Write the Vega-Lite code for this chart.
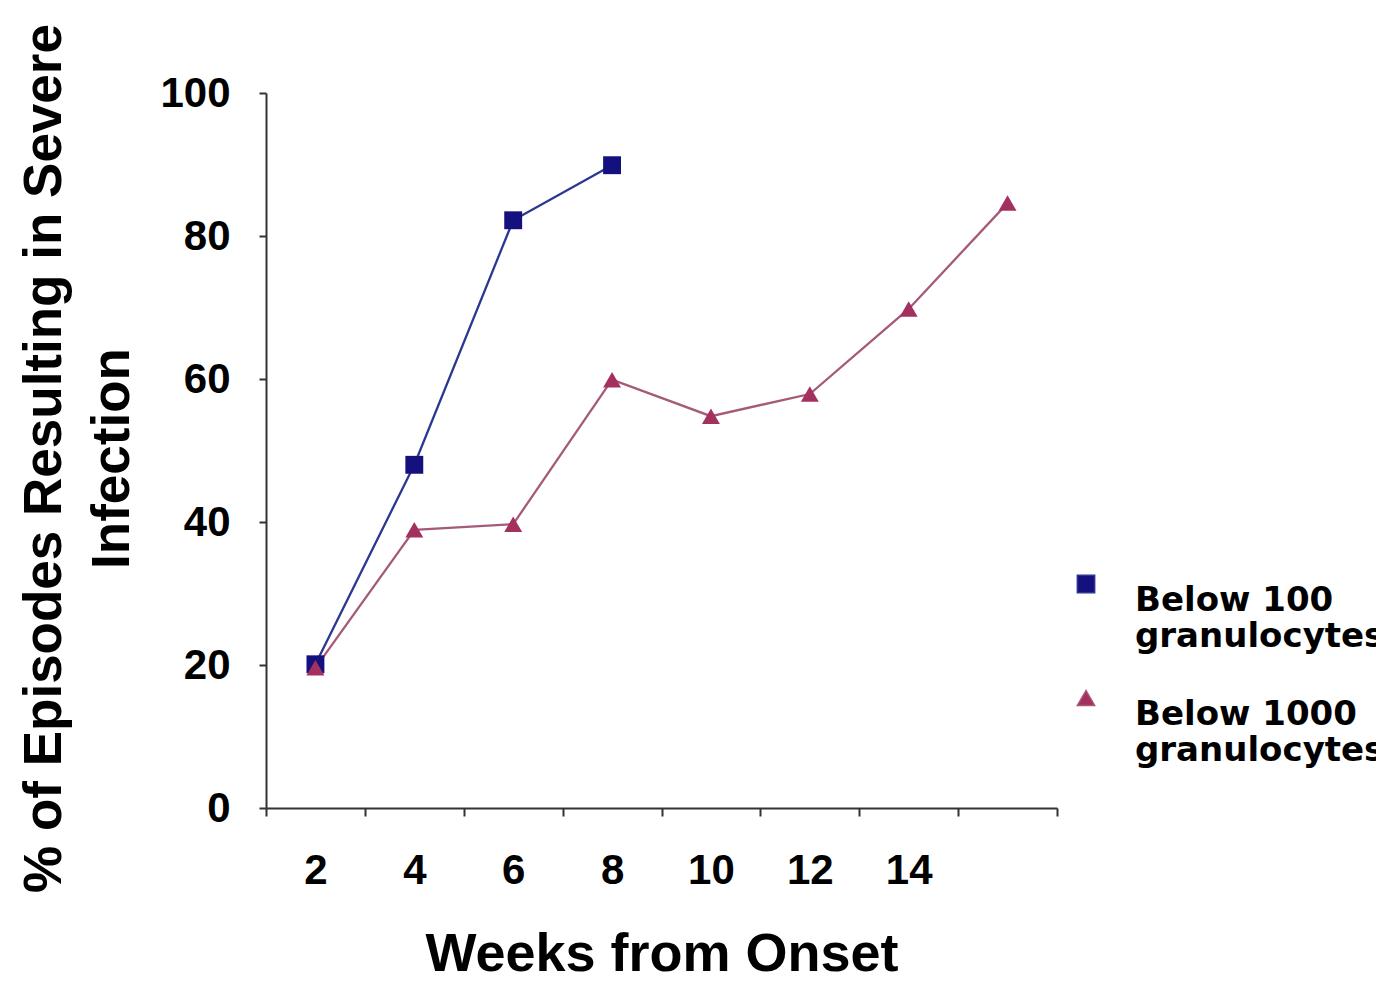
{
  "$schema": "https://vega.github.io/schema/vega-lite/v6.json",
  "autosize": "none",
  "width": 791,
  "height": 715,
  "padding": {"left": 266, "top": 93, "right": 319, "bottom": 174},
  "background": "white",
  "config": {"view": {"stroke": null}, "font": "Liberation Sans"},
  "data": {
    "values": [
      {"week": 2, "pct": 20.1, "series": "Below 100 granulocytes"},
      {"week": 4, "pct": 48.0, "series": "Below 100 granulocytes"},
      {"week": 6, "pct": 82.2, "series": "Below 100 granulocytes"},
      {"week": 8, "pct": 89.9, "series": "Below 100 granulocytes"},
      {"week": 2, "pct": 19.6, "series": "Below 1000 granulocytes"},
      {"week": 4, "pct": 38.9, "series": "Below 1000 granulocytes"},
      {"week": 6, "pct": 39.7, "series": "Below 1000 granulocytes"},
      {"week": 8, "pct": 59.9, "series": "Below 1000 granulocytes"},
      {"week": 10, "pct": 54.8, "series": "Below 1000 granulocytes"},
      {"week": 12, "pct": 57.9, "series": "Below 1000 granulocytes"},
      {"week": 14, "pct": 69.8, "series": "Below 1000 granulocytes"},
      {"week": 16, "pct": 84.6, "series": "Below 1000 granulocytes"}
    ]
  },
  "encoding": {
    "x": {
      "field": "week",
      "type": "ordinal",
      "bandPosition": 0.5,
      "scale": {"type": "band", "domain": [2, 4, 6, 8, 10, 12, 14, 16], "paddingInner": 0, "paddingOuter": 0},
      "axis": {
        "title": "Weeks from Onset",
        "titleFont": "Liberation Sans",
        "titleFontSize": 54,
        "titleFontWeight": "bold",
        "titleColor": "#000000",
        "titleBaseline": "alphabetic",
        "titleX": 395.5,
        "titleY": 162,
        "titleAlign": "center",
        "tickBand": "extent",
        "tickSize": 8,
        "tickWidth": 2,
        "tickColor": "#333333",
        "domainColor": "#333333",
        "domainWidth": 2,
        "labelAngle": 0,
        "labelFont": "Liberation Sans",
        "labelFontSize": 42,
        "labelFontWeight": "bold",
        "labelColor": "#000000",
        "labelBaseline": "top",
        "labelPadding": 34,
        "labelExpr": "datum.value == 16 ? '' : datum.label",
        "grid": false
      }
    },
    "y": {
      "field": "pct",
      "type": "quantitative",
      "scale": {"domain": [0, 100], "nice": false, "zero": true},
      "axis": {
        "title": ["% of Episodes Resulting in Severe", "Infection"],
        "titleFont": "Liberation Sans",
        "titleFontSize": 53,
        "titleFontWeight": "bold",
        "titleColor": "#000000",
        "titleAngle": -90,
        "titleBaseline": "alphabetic",
        "titleAlign": "center",
        "titleLineHeight": 68,
        "titleX": -206,
        "titleY": 365,
        "values": [0, 20, 40, 60, 80, 100],
        "tickSize": 7,
        "tickWidth": 2,
        "tickColor": "#333333",
        "domainColor": "#333333",
        "domainWidth": 2,
        "labelFont": "Liberation Sans",
        "labelFontSize": 42,
        "labelFontWeight": "bold",
        "labelColor": "#000000",
        "labelPadding": 29,
        "grid": false
      }
    }
  },
  "layer": [
    {
      "mark": {"type": "line", "strokeWidth": 2.3},
      "encoding": {
        "stroke": {
          "field": "series",
          "type": "nominal",
          "scale": {"domain": ["Below 100 granulocytes", "Below 1000 granulocytes"], "range": ["#2c3890", "#a65a7a"]}
        },
        "detail": {"field": "series"}
      }
    },
    {
      "mark": {"type": "point", "filled": true, "opacity": 1, "size": 320},
      "encoding": {
        "fill": {
          "field": "series",
          "type": "nominal",
          "scale": {"domain": ["Below 100 granulocytes", "Below 1000 granulocytes"], "range": ["#14107e", "#a3305f"]},
          "legend": {
            "title": null,
            "orient": "none",
            "legendX": 803,
            "legendY": 474,
            "symbolSize": 300,
            "labelFont": "DejaVu Sans",
            "labelFontSize": 34,
            "labelFontWeight": "bold",
            "labelColor": "#000000",
            "labelLimit": 400,
            "labelOffset": 32,
            "labelBaseline": "top",
            "rowPadding": 27,
            "labelExpr": "[slice(datum.label, 0, indexof(datum.label, ' granulocytes')), 'granulocytes']"
          }
        },
        "shape": {
          "field": "series",
          "type": "nominal",
          "scale": {"domain": ["Below 100 granulocytes", "Below 1000 granulocytes"], "range": ["square", "triangle-up"]}
        }
      }
    }
  ]
}
